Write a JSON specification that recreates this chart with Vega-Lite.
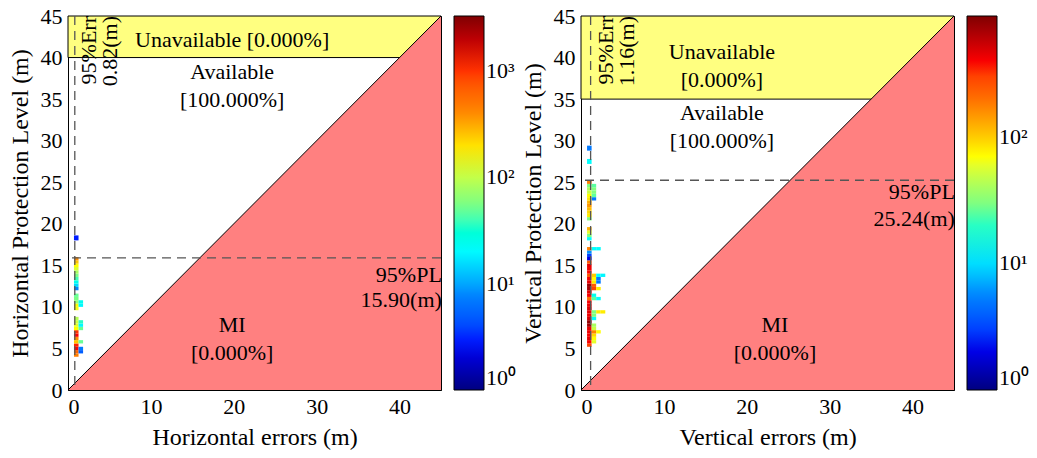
{
  "$schema": "https://vega.github.io/schema/vega-lite/v6.json",
  "padding": {"left": 7, "top": 4, "right": 5, "bottom": 5},
  "spacing": 3,
  "config": {
    "font": "Liberation Serif",
    "view": {"stroke": "black", "strokeWidth": 1},
    "axis": {"grid": false, "ticks": false, "domainColor": "black", "labelColor": "black", "titleColor": "black", "labelFontSize": 22, "titleFontSize": 24, "titleFontWeight": "normal", "labelFont": "Liberation Serif", "titleFont": "Liberation Serif", "labelPadding": 6, "titlePadding": 8},
    "legend": {"orient": "right", "offset": 13, "gradientLength": 374, "gradientThickness": 30, "gradientStrokeColor": "black", "gradientStrokeWidth": 1, "labelFont": "Liberation Serif", "labelFontSize": 22, "labelColor": "black", "labelOffset": 6, "labelBaseline": "middle", "direction": "vertical"},
    "text": {"font": "Liberation Serif", "fontSize": 22, "color": "black"}
  },
  "datasets": {
    "hzone": [{"x0": 0, "x1": 45, "y0": 40, "y1": 45}],
    "vzone": [{"x0": 0, "x1": 45, "y0": 35, "y1": 45}],
    "tri": [{"x": 0, "y": 0, "b": 0}, {"x": 45, "y": 45, "b": 0}],
    "diag": [{"x0": 0, "y0": 0, "x1": 45, "y1": 45}],
    "herr": [{"e": 0.82}],
    "hpl": [{"p": 15.9}],
    "verr": [{"e": 1.16}],
    "vpl": [{"p": 25.24}],
    "hcells": [
      {"e0": 0.72, "e1": 1.27, "p0": 4.0, "p1": 4.4, "n": 450},
      {"e0": 0.72, "e1": 1.27, "p0": 4.4, "p1": 4.8, "n": 600},
      {"e0": 0.72, "e1": 1.27, "p0": 4.8, "p1": 5.2, "n": 1200},
      {"e0": 0.72, "e1": 1.27, "p0": 5.2, "p1": 5.6, "n": 1100},
      {"e0": 0.72, "e1": 1.27, "p0": 5.6, "p1": 6.0, "n": 250},
      {"e0": 0.72, "e1": 1.27, "p0": 6.0, "p1": 6.4, "n": 400},
      {"e0": 0.72, "e1": 1.27, "p0": 6.4, "p1": 6.8, "n": 1200},
      {"e0": 0.72, "e1": 1.27, "p0": 6.8, "p1": 7.2, "n": 1000},
      {"e0": 0.72, "e1": 1.27, "p0": 7.2, "p1": 7.6, "n": 160},
      {"e0": 0.72, "e1": 1.27, "p0": 7.6, "p1": 8.0, "n": 130},
      {"e0": 0.72, "e1": 1.27, "p0": 8.0, "p1": 8.4, "n": 110},
      {"e0": 0.72, "e1": 1.27, "p0": 8.4, "p1": 8.8, "n": 90},
      {"e0": 0.72, "e1": 1.27, "p0": 9.6, "p1": 10.0, "n": 150},
      {"e0": 0.72, "e1": 1.27, "p0": 10.0, "p1": 10.4, "n": 160},
      {"e0": 0.72, "e1": 1.27, "p0": 10.4, "p1": 10.8, "n": 70},
      {"e0": 0.72, "e1": 1.27, "p0": 10.8, "p1": 11.2, "n": 55},
      {"e0": 0.72, "e1": 1.27, "p0": 11.2, "p1": 11.6, "n": 50},
      {"e0": 0.72, "e1": 1.27, "p0": 12.0, "p1": 12.4, "n": 8},
      {"e0": 0.72, "e1": 1.27, "p0": 12.4, "p1": 12.8, "n": 15},
      {"e0": 0.72, "e1": 1.27, "p0": 12.8, "p1": 13.2, "n": 25},
      {"e0": 0.72, "e1": 1.27, "p0": 13.2, "p1": 13.6, "n": 40},
      {"e0": 0.72, "e1": 1.27, "p0": 13.6, "p1": 14.0, "n": 55},
      {"e0": 0.72, "e1": 1.27, "p0": 14.0, "p1": 14.4, "n": 80},
      {"e0": 0.72, "e1": 1.27, "p0": 14.4, "p1": 14.8, "n": 120},
      {"e0": 0.72, "e1": 1.27, "p0": 14.8, "p1": 15.2, "n": 160},
      {"e0": 0.72, "e1": 1.27, "p0": 15.2, "p1": 15.6, "n": 250},
      {"e0": 0.72, "e1": 1.27, "p0": 15.6, "p1": 16.0, "n": 400},
      {"e0": 0.72, "e1": 1.27, "p0": 18.0, "p1": 18.6, "n": 3},
      {"e0": 1.27, "e1": 1.82, "p0": 4.4, "p1": 4.8, "n": 5},
      {"e0": 1.27, "e1": 1.82, "p0": 4.8, "p1": 5.2, "n": 7},
      {"e0": 1.27, "e1": 1.82, "p0": 5.6, "p1": 6.0, "n": 50},
      {"e0": 1.27, "e1": 1.82, "p0": 7.2, "p1": 7.6, "n": 50},
      {"e0": 1.27, "e1": 1.82, "p0": 7.6, "p1": 8.0, "n": 20},
      {"e0": 1.27, "e1": 1.82, "p0": 8.0, "p1": 8.4, "n": 35},
      {"e0": 1.27, "e1": 1.82, "p0": 10.0, "p1": 10.4, "n": 20},
      {"e0": 1.27, "e1": 1.82, "p0": 10.4, "p1": 10.8, "n": 25}
    ],
    "vcells": [
      {"e0": 0.73, "e1": 1.28, "p0": 5.2, "p1": 5.6, "n": 300},
      {"e0": 0.73, "e1": 1.28, "p0": 5.6, "p1": 6.0, "n": 400},
      {"e0": 0.73, "e1": 1.28, "p0": 6.0, "p1": 6.4, "n": 450},
      {"e0": 0.73, "e1": 1.28, "p0": 6.4, "p1": 6.8, "n": 400},
      {"e0": 0.73, "e1": 1.28, "p0": 6.8, "p1": 7.2, "n": 420},
      {"e0": 0.73, "e1": 1.28, "p0": 7.2, "p1": 7.6, "n": 450},
      {"e0": 0.73, "e1": 1.28, "p0": 7.6, "p1": 8.0, "n": 700},
      {"e0": 0.73, "e1": 1.28, "p0": 8.0, "p1": 8.4, "n": 800},
      {"e0": 0.73, "e1": 1.28, "p0": 8.4, "p1": 8.8, "n": 500},
      {"e0": 0.73, "e1": 1.28, "p0": 8.8, "p1": 9.2, "n": 420},
      {"e0": 0.73, "e1": 1.28, "p0": 9.2, "p1": 9.6, "n": 450},
      {"e0": 0.73, "e1": 1.28, "p0": 9.6, "p1": 10.0, "n": 480},
      {"e0": 0.73, "e1": 1.28, "p0": 10.0, "p1": 10.4, "n": 430},
      {"e0": 0.73, "e1": 1.28, "p0": 10.4, "p1": 10.8, "n": 400},
      {"e0": 0.73, "e1": 1.28, "p0": 10.8, "p1": 11.2, "n": 200},
      {"e0": 0.73, "e1": 1.28, "p0": 11.2, "p1": 11.6, "n": 400},
      {"e0": 0.73, "e1": 1.28, "p0": 11.6, "p1": 12.0, "n": 450},
      {"e0": 0.73, "e1": 1.28, "p0": 12.0, "p1": 12.4, "n": 700},
      {"e0": 0.73, "e1": 1.28, "p0": 12.4, "p1": 12.8, "n": 750},
      {"e0": 0.73, "e1": 1.28, "p0": 12.8, "p1": 13.2, "n": 450},
      {"e0": 0.73, "e1": 1.28, "p0": 13.2, "p1": 13.6, "n": 400},
      {"e0": 0.73, "e1": 1.28, "p0": 13.6, "p1": 14.0, "n": 250},
      {"e0": 0.73, "e1": 1.28, "p0": 14.0, "p1": 14.4, "n": 380},
      {"e0": 0.73, "e1": 1.28, "p0": 14.4, "p1": 14.8, "n": 420},
      {"e0": 0.73, "e1": 1.28, "p0": 14.8, "p1": 15.2, "n": 450},
      {"e0": 0.73, "e1": 1.28, "p0": 15.2, "p1": 15.6, "n": 250},
      {"e0": 0.73, "e1": 1.28, "p0": 15.6, "p1": 16.0, "n": 2},
      {"e0": 0.73, "e1": 1.28, "p0": 16.0, "p1": 16.4, "n": 3},
      {"e0": 0.73, "e1": 1.28, "p0": 16.4, "p1": 16.8, "n": 6},
      {"e0": 0.73, "e1": 1.28, "p0": 16.8, "p1": 17.2, "n": 170},
      {"e0": 0.73, "e1": 1.28, "p0": 18.0, "p1": 18.4, "n": 13},
      {"e0": 0.73, "e1": 1.28, "p0": 18.4, "p1": 18.8, "n": 30},
      {"e0": 0.73, "e1": 1.28, "p0": 18.8, "p1": 19.2, "n": 60},
      {"e0": 0.73, "e1": 1.28, "p0": 19.2, "p1": 19.6, "n": 120},
      {"e0": 0.73, "e1": 1.28, "p0": 20.4, "p1": 20.8, "n": 30},
      {"e0": 0.73, "e1": 1.28, "p0": 20.8, "p1": 21.2, "n": 80},
      {"e0": 0.73, "e1": 1.28, "p0": 21.2, "p1": 21.6, "n": 90},
      {"e0": 0.73, "e1": 1.28, "p0": 21.6, "p1": 22.0, "n": 110},
      {"e0": 0.73, "e1": 1.28, "p0": 22.0, "p1": 22.4, "n": 140},
      {"e0": 0.73, "e1": 1.28, "p0": 22.4, "p1": 22.8, "n": 120},
      {"e0": 0.73, "e1": 1.28, "p0": 22.8, "p1": 23.2, "n": 80},
      {"e0": 0.73, "e1": 1.28, "p0": 23.2, "p1": 23.6, "n": 70},
      {"e0": 0.73, "e1": 1.28, "p0": 23.6, "p1": 24.0, "n": 50},
      {"e0": 0.73, "e1": 1.28, "p0": 24.0, "p1": 24.4, "n": 40},
      {"e0": 0.73, "e1": 1.28, "p0": 24.4, "p1": 24.8, "n": 30},
      {"e0": 0.73, "e1": 1.28, "p0": 24.8, "p1": 25.2, "n": 170},
      {"e0": 0.73, "e1": 1.28, "p0": 27.2, "p1": 27.8, "n": 13},
      {"e0": 0.73, "e1": 1.28, "p0": 28.8, "p1": 29.4, "n": 5},
      {"e0": 1.28, "e1": 1.83, "p0": 5.6, "p1": 6.0, "n": 60},
      {"e0": 1.28, "e1": 1.83, "p0": 6.0, "p1": 6.4, "n": 70},
      {"e0": 1.28, "e1": 1.83, "p0": 6.4, "p1": 6.8, "n": 90},
      {"e0": 1.28, "e1": 1.83, "p0": 6.8, "p1": 7.2, "n": 160},
      {"e0": 1.28, "e1": 1.83, "p0": 7.2, "p1": 7.6, "n": 50},
      {"e0": 1.28, "e1": 1.83, "p0": 7.6, "p1": 8.0, "n": 40},
      {"e0": 1.28, "e1": 1.83, "p0": 8.4, "p1": 8.8, "n": 13},
      {"e0": 1.28, "e1": 1.83, "p0": 8.8, "p1": 9.2, "n": 30},
      {"e0": 1.28, "e1": 1.83, "p0": 9.2, "p1": 9.6, "n": 30},
      {"e0": 1.28, "e1": 1.83, "p0": 10.8, "p1": 11.2, "n": 25},
      {"e0": 1.28, "e1": 1.83, "p0": 11.2, "p1": 11.6, "n": 15},
      {"e0": 1.28, "e1": 1.83, "p0": 12.0, "p1": 12.4, "n": 300},
      {"e0": 1.28, "e1": 1.83, "p0": 12.4, "p1": 12.8, "n": 250},
      {"e0": 1.28, "e1": 1.83, "p0": 12.8, "p1": 13.2, "n": 80},
      {"e0": 1.28, "e1": 1.83, "p0": 13.2, "p1": 13.6, "n": 70},
      {"e0": 1.28, "e1": 1.83, "p0": 13.6, "p1": 14.0, "n": 100},
      {"e0": 1.28, "e1": 1.83, "p0": 16.8, "p1": 17.2, "n": 13},
      {"e0": 1.28, "e1": 1.83, "p0": 22.8, "p1": 23.2, "n": 5},
      {"e0": 1.28, "e1": 1.83, "p0": 23.2, "p1": 23.6, "n": 25},
      {"e0": 1.28, "e1": 1.83, "p0": 23.6, "p1": 24.0, "n": 30},
      {"e0": 1.28, "e1": 1.83, "p0": 24.0, "p1": 24.4, "n": 30},
      {"e0": 1.28, "e1": 1.83, "p0": 24.4, "p1": 24.8, "n": 25},
      {"e0": 1.83, "e1": 2.38, "p0": 6.8, "p1": 7.2, "n": 70},
      {"e0": 1.83, "e1": 2.38, "p0": 9.2, "p1": 9.6, "n": 80},
      {"e0": 1.83, "e1": 2.38, "p0": 10.8, "p1": 11.2, "n": 13},
      {"e0": 1.83, "e1": 2.38, "p0": 12.0, "p1": 12.4, "n": 80},
      {"e0": 1.83, "e1": 2.38, "p0": 12.8, "p1": 13.2, "n": 5},
      {"e0": 1.83, "e1": 2.38, "p0": 13.2, "p1": 13.6, "n": 5},
      {"e0": 1.83, "e1": 2.38, "p0": 13.6, "p1": 14.0, "n": 13},
      {"e0": 1.83, "e1": 2.38, "p0": 16.8, "p1": 17.2, "n": 13},
      {"e0": 2.38, "e1": 2.93, "p0": 9.2, "p1": 9.6, "n": 80},
      {"e0": 2.38, "e1": 2.93, "p0": 13.6, "p1": 14.0, "n": 12}
    ],
    "htext1": [{"x": 19.8, "y": 42.1, "t": "Unavailable [0.000%]"}],
    "htext": [
      {"x": 19.8, "y": 38.3, "t": "Available\n[100.000%]"},
      {"x": 19.8, "y": 7.8, "t": "MI\n[0.000%]"}
    ],
    "vtext": [
      {"x": 17.0, "y": 40.7, "t": "Unavailable\n[0.000%]"},
      {"x": 17.0, "y": 33.3, "t": "Available\n[100.000%]"},
      {"x": 23.4, "y": 7.8, "t": "MI\n[0.000%]"}
    ],
    "hpltext": [{"x": 45.1, "y": 13.8, "t": "95%PL\n15.90(m)"}],
    "vpltext": [{"x": 45.1, "y": 23.8, "t": "95%PL\n25.24(m)"}],
    "herrtext": [{"x": 1.3, "y": 45, "t": "95%Err\n0.82(m)"}],
    "verrtext": [{"x": 1.75, "y": 45, "t": "95%Err\n1.16(m)"}]
  },
  "resolve": {"scale": {"color": "independent"}, "legend": {"color": "independent"}},
  "hconcat": [
    {
      "width": 373,
      "height": 374,
      "layer": [
        {
          "data": {"name": "hzone"},
          "mark": {"type": "rect", "color": "#ffff80", "stroke": "black", "strokeWidth": 1},
          "encoding": {
            "x": {"field": "x0", "type": "quantitative", "scale": {"domain": [0, 45], "nice": false, "zero": false}, "axis": {"values": [0, 10, 20, 30, 40], "title": "Horizontal errors (m)"}},
            "x2": {"field": "x1"},
            "y": {"field": "y0", "type": "quantitative", "scale": {"domain": [0, 45], "nice": false, "zero": false}, "axis": {"values": [0, 5, 10, 15, 20, 25, 30, 35, 40, 45], "title": "Horizontal Protection Level (m)"}},
            "y2": {"field": "y1"}
          }
        },
        {
          "data": {"name": "tri"},
          "mark": {"type": "area", "color": "#ff8080", "opacity": 1},
          "encoding": {
            "x": {"field": "x", "type": "quantitative"},
            "y": {"field": "y", "type": "quantitative"},
            "y2": {"field": "b"}
          }
        },
        {
          "data": {"name": "diag"},
          "mark": {"type": "rule", "color": "black", "strokeWidth": 1},
          "encoding": {
            "x": {"field": "x0", "type": "quantitative"},
            "x2": {"field": "x1"},
            "y": {"field": "y0", "type": "quantitative"},
            "y2": {"field": "y1"}
          }
        },
        {
          "data": {"name": "hcells"},
          "mark": {"type": "rect"},
          "encoding": {
            "x": {"field": "e0", "type": "quantitative"},
            "x2": {"field": "e1"},
            "y": {"field": "p0", "type": "quantitative"},
            "y2": {"field": "p1"},
            "color": {
              "field": "n", "type": "quantitative",
              "scale": {"type": "log", "nice": false, "domain": [1, 2.753, 7.58, 20.87, 57.45, 158.2, 435.5, 1199, 3300], "range": ["#000080", "#0000ff", "#0080ff", "#00ffff", "#80ff80", "#ffff00", "#ff8000", "#ff0000", "#800000"]},
              "legend": {"title": null, "values": [1, 10, 100, 1000], "labelExpr": "datum.value == 1 ? '10⁰' : datum.value == 10 ? '10¹' : datum.value == 100 ? '10²' : '10³'"}
            }
          }
        },
        {
          "data": {"name": "herr"},
          "mark": {"type": "rule", "color": "#555555", "strokeDash": [9, 6], "strokeWidth": 1.3},
          "encoding": {"x": {"field": "e", "type": "quantitative"}}
        },
        {
          "data": {"name": "hpl"},
          "mark": {"type": "rule", "color": "#555555", "strokeDash": [9, 6], "strokeWidth": 1.3},
          "encoding": {"y": {"field": "p", "type": "quantitative"}}
        },
        {
          "data": {"name": "htext1"},
          "mark": {"type": "text", "align": "center", "baseline": "middle"},
          "encoding": {"x": {"field": "x", "type": "quantitative"}, "y": {"field": "y", "type": "quantitative"}, "text": {"field": "t"}}
        },
        {
          "data": {"name": "htext"},
          "mark": {"type": "text", "align": "center", "baseline": "middle", "lineBreak": "\n", "lineHeight": 28},
          "encoding": {"x": {"field": "x", "type": "quantitative"}, "y": {"field": "y", "type": "quantitative"}, "text": {"field": "t"}}
        },
        {
          "data": {"name": "hpltext"},
          "mark": {"type": "text", "align": "right", "baseline": "middle", "lineBreak": "\n", "lineHeight": 25},
          "encoding": {"x": {"field": "x", "type": "quantitative"}, "y": {"field": "y", "type": "quantitative"}, "text": {"field": "t"}}
        },
        {
          "data": {"name": "herrtext"},
          "mark": {"type": "text", "align": "right", "baseline": "top", "angle": 270, "lineBreak": "\n", "lineHeight": 21},
          "encoding": {"x": {"field": "x", "type": "quantitative"}, "y": {"field": "y", "type": "quantitative"}, "text": {"field": "t"}}
        }
      ]
    },
    {
      "width": 373,
      "height": 374,
      "layer": [
        {
          "data": {"name": "vzone"},
          "mark": {"type": "rect", "color": "#ffff80", "stroke": "black", "strokeWidth": 1},
          "encoding": {
            "x": {"field": "x0", "type": "quantitative", "scale": {"domain": [0, 45], "nice": false, "zero": false}, "axis": {"values": [0, 10, 20, 30, 40], "title": "Vertical errors (m)"}},
            "x2": {"field": "x1"},
            "y": {"field": "y0", "type": "quantitative", "scale": {"domain": [0, 45], "nice": false, "zero": false}, "axis": {"values": [0, 5, 10, 15, 20, 25, 30, 35, 40, 45], "title": "Vertical Protection Level (m)"}},
            "y2": {"field": "y1"}
          }
        },
        {
          "data": {"name": "tri"},
          "mark": {"type": "area", "color": "#ff8080", "opacity": 1},
          "encoding": {
            "x": {"field": "x", "type": "quantitative"},
            "y": {"field": "y", "type": "quantitative"},
            "y2": {"field": "b"}
          }
        },
        {
          "data": {"name": "diag"},
          "mark": {"type": "rule", "color": "black", "strokeWidth": 1},
          "encoding": {
            "x": {"field": "x0", "type": "quantitative"},
            "x2": {"field": "x1"},
            "y": {"field": "y0", "type": "quantitative"},
            "y2": {"field": "y1"}
          }
        },
        {
          "data": {"name": "vcells"},
          "mark": {"type": "rect"},
          "encoding": {
            "x": {"field": "e0", "type": "quantitative"},
            "x2": {"field": "e1"},
            "y": {"field": "p0", "type": "quantitative"},
            "y2": {"field": "p1"},
            "color": {
              "field": "n", "type": "quantitative",
              "scale": {"type": "log", "nice": false, "domain": [1, 2.34, 5.477, 12.82, 30.0, 70.2, 164.3, 384.5, 900], "range": ["#000080", "#0000ff", "#0080ff", "#00ffff", "#80ff80", "#ffff00", "#ff8000", "#ff0000", "#800000"]},
              "legend": {"title": null, "values": [1, 10, 100], "labelExpr": "datum.value == 1 ? '10⁰' : datum.value == 10 ? '10¹' : datum.value == 100 ? '10²' : '10³'"}
            }
          }
        },
        {
          "data": {"name": "verr"},
          "mark": {"type": "rule", "color": "#555555", "strokeDash": [9, 6], "strokeWidth": 1.3},
          "encoding": {"x": {"field": "e", "type": "quantitative"}}
        },
        {
          "data": {"name": "vpl"},
          "mark": {"type": "rule", "color": "#555555", "strokeDash": [9, 6], "strokeWidth": 1.3},
          "encoding": {"y": {"field": "p", "type": "quantitative"}}
        },
        {
          "data": {"name": "vtext"},
          "mark": {"type": "text", "align": "center", "baseline": "middle", "lineBreak": "\n", "lineHeight": 28},
          "encoding": {"x": {"field": "x", "type": "quantitative"}, "y": {"field": "y", "type": "quantitative"}, "text": {"field": "t"}}
        },
        {
          "data": {"name": "vpltext"},
          "mark": {"type": "text", "align": "right", "baseline": "middle", "lineBreak": "\n", "lineHeight": 27},
          "encoding": {"x": {"field": "x", "type": "quantitative"}, "y": {"field": "y", "type": "quantitative"}, "text": {"field": "t"}}
        },
        {
          "data": {"name": "verrtext"},
          "mark": {"type": "text", "align": "right", "baseline": "top", "angle": 270, "lineBreak": "\n", "lineHeight": 21},
          "encoding": {"x": {"field": "x", "type": "quantitative"}, "y": {"field": "y", "type": "quantitative"}, "text": {"field": "t"}}
        }
      ]
    }
  ]
}
